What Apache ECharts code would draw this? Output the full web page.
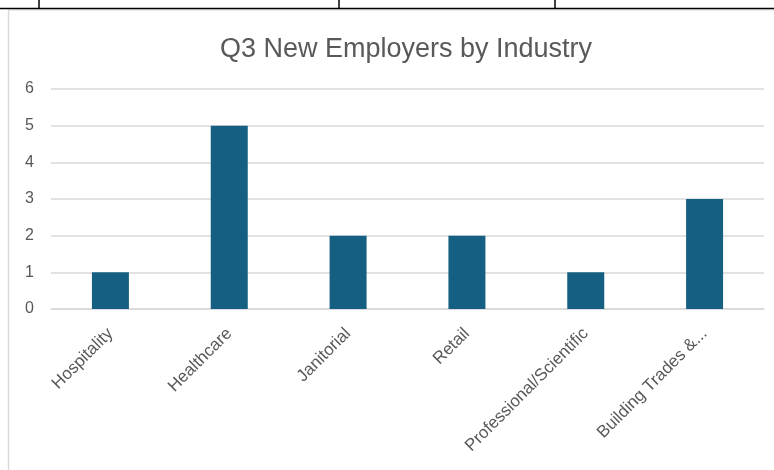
<!DOCTYPE html>
<html>
<head>
<meta charset="utf-8">
<script src="https://cdn.jsdelivr.net/npm/echarts@6/dist/echarts.min.js"></script>
<style>
html,body{margin:0;padding:0;background:#fff;}
#chart{width:774px;height:470px;}
</style>
</head>
<body>
<div id="chart"></div>
<script>
var categories = ['Hospitality', 'Healthcare', 'Janitorial', 'Retail', 'Professional/Scientific', 'Building Trades &...'];
var values = [1, 5, 2, 2, 1, 3];
var titleText = 'Q3 New Employers by Industry';

var chart = echarts.init(document.getElementById('chart'));
var font = 'Liberation Sans, Arial, sans-serif';
chart.setOption({
  backgroundColor: '#ffffff',
  animation: false,
  title: {
    text: titleText,
    left: 401,
    textAlign: 'center',
    top: 31,
    textStyle: { fontFamily: font, fontSize: 27, fontWeight: 'normal', color: '#595959' }
  },
  graphic: [
    { type: 'line', shape: { x1: 8.5, y1: 10, x2: 8.5, y2: 470 }, style: { stroke: '#d9d9d9', lineWidth: 1.5 } },
    { type: 'line', shape: { x1: 8, y1: 10, x2: 774, y2: 10 }, style: { stroke: '#d9d9d9', lineWidth: 1 } },
    { type: 'line', shape: { x1: 0, y1: 8.5, x2: 774, y2: 8.5 }, style: { stroke: '#000', lineWidth: 1.5 } },
    { type: 'line', shape: { x1: 39, y1: 0, x2: 39, y2: 8 }, style: { stroke: '#000', lineWidth: 1.5 } },
    { type: 'line', shape: { x1: 339, y1: 0, x2: 339, y2: 8 }, style: { stroke: '#000', lineWidth: 1.5 } },
    { type: 'line', shape: { x1: 555, y1: 0, x2: 555, y2: 8 }, style: { stroke: '#000', lineWidth: 1.5 } }
  ],
  grid: { left: 51, right: 10, top: 89, bottom: 161, containLabel: false },
  xAxis: {
    type: 'category',
    data: categories,
    axisLine: { show: true, lineStyle: { color: '#d9d9d9', width: 1.5 } },
    axisTick: { show: false },
    axisLabel: {
      rotate: 45,
      interval: 0,
      margin: 22,
      fontFamily: font,
      fontSize: 17,
      color: '#595959'
    }
  },
  yAxis: {
    type: 'value',
    min: 0,
    max: 6,
    interval: 1,
    axisLine: { show: false },
    axisTick: { show: false },
    axisLabel: { fontFamily: font, fontSize: 16, color: '#595959', margin: 17 },
    splitLine: { lineStyle: { color: '#d9d9d9', width: 1.5 } }
  },
  series: [{
    type: 'bar',
    data: values,
    barWidth: 37,
    itemStyle: { color: '#156082' }
  }]
});
</script>
</body>
</html>
